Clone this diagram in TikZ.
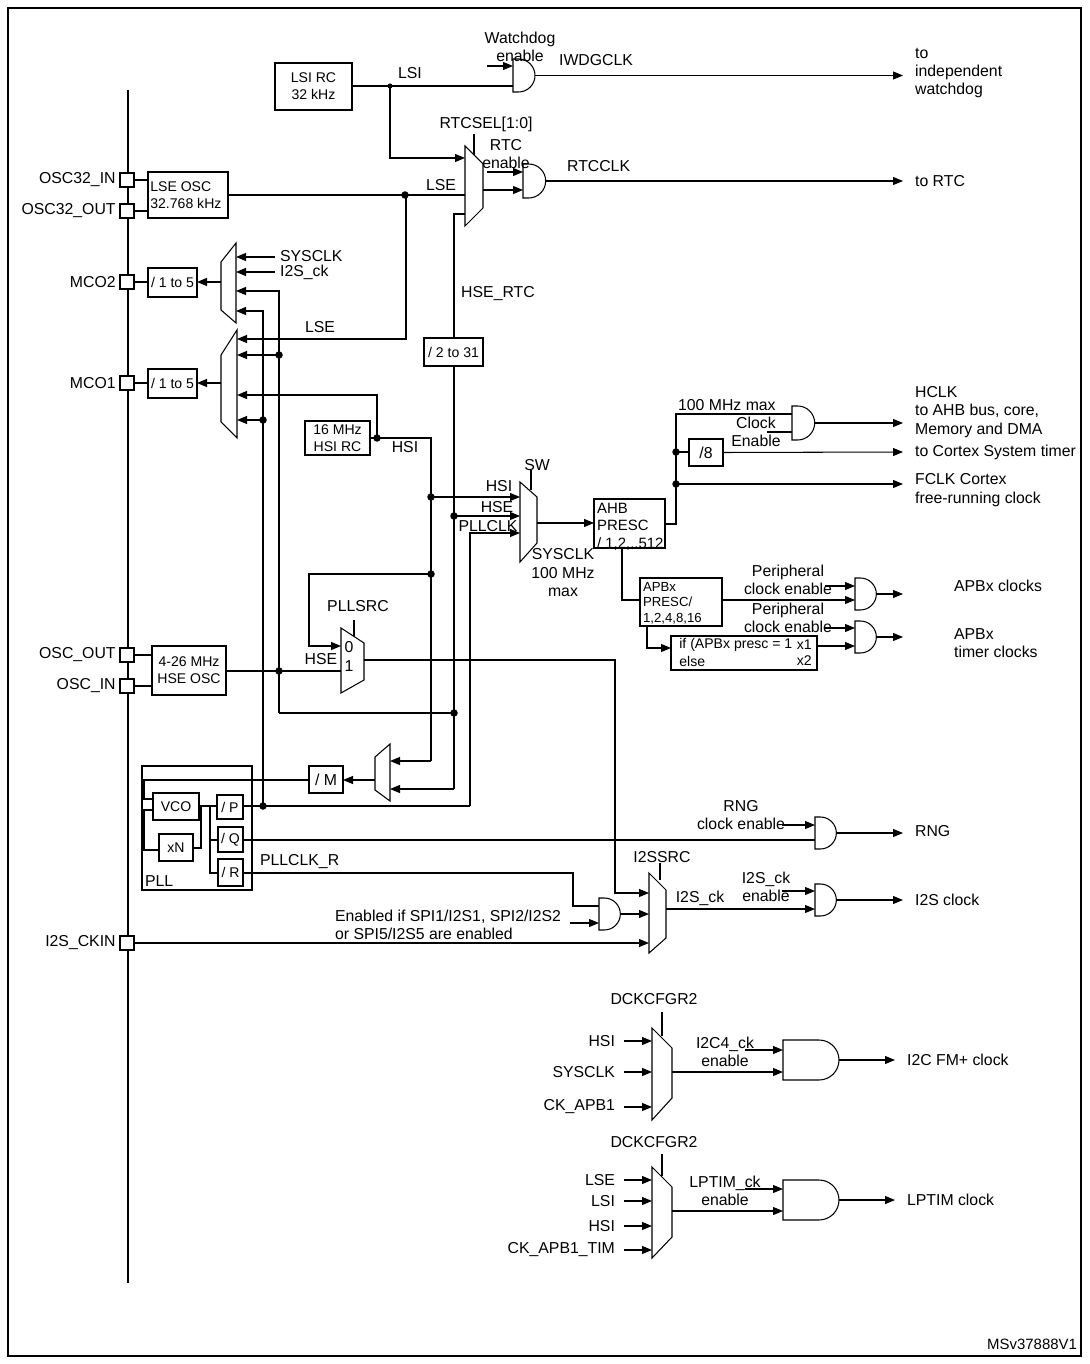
\documentclass[tikz,border=0pt]{standalone}
\usepackage{fontspec}
\setmainfont{Liberation Sans}
\usetikzlibrary{arrows.meta,positioning}

\tikzset{
  wire/.style={line width=0.6pt},
  arr/.style={wire,-{Triangle[length=0.2cm,width=0.16cm]}},
  boxtxt/.style={inner sep=0pt,font=\fontsize{8}{9.5}\selectfont,align=center},
  pin/.style={draw,fill=white,line width=0.6pt,minimum size=0.28cm,inner sep=0pt},
  lbl/.style={font=\fontsize{9}{10.5}\selectfont,inner sep=1pt},
  dot/.style={circle,fill,inner sep=0pt,minimum size=0.15cm},
}
% block: name, x1, y1, x2, y2, text
\newcommand\blk[6]{\draw[wire] (#2,#3) rectangle (#4,#5);
  \node[boxtxt] (#1) at ({(#2+#4)/2},{(#3+#5)/2}) {#6};}
% and gate: name of output, x, ytop, height
\newcommand\andg[4]{\draw[wire] (#2,#3) -- ++(#4/6,0) arc[start angle=-90,end angle=90,radius=#4/2] -- (#2,#3+#4) -- cycle;
  \coordinate (#1) at ({#2+2*#4/3},{#3+#4/2});}
% big and gate for the lower outputs
\newcommand\bigand[4]{\draw[wire] (#2,#3) -- ++(36,0) arc[start angle=-90,end angle=90,radius=#4/2] -- (#2,#3+#4) -- cycle;
  \coordinate (#1) at ({#2+36+#4/2},{#3+#4/2});}

\begin{document}
\begin{tikzpicture}[x=0.02cm,y=-0.02cm]
\useasboundingbox (0,0) rectangle (1089,1364);
\draw[wire] (8,8) rectangle (1081,1356);

% bus and pins
\draw[wire] (128,90) -- (128,1283);
\node[pin] (p32in) at (127,180) {};
\node[pin] (p32out) at (127,211) {};
\node[pin] (pmco2) at (127,282) {};
\node[pin] (pmco1) at (127,383) {};
\node[pin] (poscout) at (127,655) {};
\node[pin] (poscin) at (127,686) {};
\node[pin] (pi2s) at (127,943) {};
\node[lbl,left=1pt of p32in] {OSC32\_IN};
\node[lbl,left=1pt of p32out] {OSC32\_OUT};
\node[lbl,left=1pt of pmco2] {MCO2};
\node[lbl,left=1pt of pmco1] {MCO1};
\node[lbl,left=1pt of poscout] {OSC\_OUT};
\node[lbl,left=1pt of poscin] {OSC\_IN};
\node[lbl,left=1pt of pi2s] {I2S\_CKIN};

% oscillators
\blk{lsirc}{275}{63}{352}{110}{LSI RC\\32 kHz}
\draw[wire] (148,172) rectangle (228,218);
\node[boxtxt,align=left,anchor=west] (lseosc) at (150,195) {LSE OSC\\32.768 kHz};
\blk{hsirc}{305}{421}{370}{455}{16 MHz\\HSI RC}
\blk{hseosc}{152}{646}{226}{695}{4-26 MHz\\HSE OSC}
\draw[wire] (p32in.east) -- (148,180) (p32out.east) -- (148,211);
\draw[wire] (poscout.east) -- (152,655) (poscin.east) -- (152,686);

% LSI, watchdog
\draw[wire] (352,86) -- (513,86);
\node[dot,minimum size=0.1cm] at (390,86) {};
\node[lbl] at (410,73) {LSI};
\draw[arr] (487,66) -- (513,66);
\node[lbl,align=center] at (520,47) {Watchdog\\enable\hspace{1em}};
\andg{iwdg}{513}{59}{33}
\node[lbl,anchor=west] at (557,60) {IWDGCLK};
\draw[arr] (iwdg) -- (903,75.5);
\node[lbl,align=left,anchor=west] at (913,73) {to\\independent\\watchdog};

% RTC
\draw[arr] (390,86) -- (390,158) -- (465,158);
\draw[wire] (465,146) -- (483,164) -- (483,208) -- (465,226) -- cycle;
\draw[wire] (474,134) -- (474,155);
\node[lbl] at (486,124) {RTCSEL[1:0]};
\draw[wire] (228,195) -- (465,195);
\node[dot] at (405,195) {};
\node[lbl] at (441,185) {LSE};
\draw[arr] (483,190) -- (523,190);
\draw[arr] (487,172) -- (523,172);
\node[lbl,align=center] at (506,154) {RTC\\enable};
\andg{rtc}{523}{164}{34}
\node[lbl,anchor=west] at (565,166) {RTCCLK};
\draw[arr] (rtc) -- (903,181);
\node[lbl,anchor=west] at (913,181) {to RTC};

% HSE_RTC
\draw[wire] (465,214) -- (454,214) -- (454,789);
\node[lbl] at (498,294) {HSE\_RTC};
\draw[wire,fill=white] (424,338) rectangle (483,366);
\node[boxtxt] (div31) at (453.5,352) {/ 2 to 31};

% MCO2
\draw[wire] (221,262) -- (236,243) -- (236,323) -- (221,310) -- cycle;
\draw[arr] (221,282) -- (197,282);
\blk{mcotwo}{148}{268}{197}{297}{/ 1 to 5}
\draw[wire] (pmco2.east) -- (148,282);
\draw[arr] (275,257) -- (236,257);
\draw[arr] (275,272) -- (236,272);
\node[lbl,anchor=west] at (278,256) {SYSCLK};
\node[lbl,anchor=west] at (278,272) {I2S\_ck};
\draw[arr] (279,713) -- (279,291) -- (236,291);
\draw[arr] (263,806) -- (263,311) -- (236,311);

% MCO1
\draw[wire] (221,355) -- (237,330) -- (237,438) -- (221,422) -- cycle;
\draw[arr] (221,383) -- (197,383);
\blk{mcoone}{148}{369}{197}{398}{/ 1 to 5}
\draw[wire] (pmco1.east) -- (148,383);
\draw[arr] (406,195) -- (406,339) -- (237,339);
\node[lbl] at (320,327) {LSE};
\draw[arr] (279,355) -- (237,355);
\node[dot] at (279,355) {};
\draw[arr] (377,438) -- (377,395) -- (237,395);
\draw[arr] (263,420) -- (237,420);
\node[dot] at (263,420) {};

% HSI
\draw[wire] (370,438) -- (431,438) -- (431,761);
\node[dot] at (377,438) {};
\node[lbl] at (405,447) {HSI};

% SW mux
\draw[wire] (520,482) -- (537,497) -- (537,543) -- (520,562) -- cycle;
\draw[wire] (531,470) -- (531,490);
\node[lbl] at (537,465) {SW};
\draw[arr] (431,497) -- (520,497);
\node[dot] at (431,497) {};
\node[lbl] at (499,486) {HSI};
\draw[arr] (454,516) -- (520,516);
\node[dot] at (454,516) {};
\node[lbl] at (497,507) {HSE};
\draw[arr] (470,806) -- (470,533) -- (520,533);
\node[lbl] at (488,526) {PLLCLK};
\node[lbl,align=center] at (563,573) {SYSCLK\\100 MHz\\max};

% AHB
\draw[arr] (537,523) -- (594,523);
\draw[wire] (594,499) rectangle (665,548);
\node[lbl,align=left,anchor=north west,font=\fontsize{8.5}{10}\selectfont] (ahb) at (595,501) {AHB\\PRESC\\/ 1,2,..512};
\draw[wire] (665,524) -- (676,524) -- (676,414) -- (792,414);
\node[lbl,anchor=west] at (676,405) {100 MHz max};
\draw[wire] (767,432) -- (792,432);
\node[lbl,align=center] at (756,432) {Clock\\Enable};
\andg{hclk}{792}{406}{34}
\draw[arr] (hclk) -- (903,423);
\draw[wire] (676,452) -- (689,452);
\node[dot] at (676,452) {};
\blk{div8}{689}{439}{723}{466}{\fontsize{9}{11}\selectfont /8}
\draw[arr] (div8.center -| 723,0) -- (903,452);
\draw[arr] (676,484) -- (903,484);
\node[dot] at (676,484) {};
\node[lbl,align=left,anchor=west] at (913,412) {HCLK\\to AHB bus, core,\\Memory and DMA};
\node[lbl,anchor=west] at (913,452) {to Cortex  System timer};
\node[lbl,align=left,anchor=west] at (913,490) {FCLK Cortex\\free-running clock};

% APBx
\draw[wire] (622,548) -- (622,600) -- (640,600);
\draw[wire] (640,578) rectangle (722,626);
\node[lbl,align=left,anchor=north west,font=\fontsize{7.5}{9}\selectfont] (apb) at (641,580) {APBx\\PRESC/\\1,2,4,8,16};
\draw[arr] (722,600) -- (855,600);
\draw[arr] (825,586) -- (855,586);
\node[lbl,align=center] at (788,580) {Peripheral\\clock enable};
\andg{apbout}{855}{578}{32}
\draw[arr] (apbout) -- (903,594);
\node[lbl,anchor=west] at (952,586) {APBx clocks};
\draw[arr] (647,626) -- (647,648) -- (671,648);
\draw[wire] (671,636) rectangle (817,670);
\node[boxtxt,anchor=west] at (679,645) {if (APBx presc = 1};
\node[boxtxt,anchor=west] at (679,661) {else};
\node[boxtxt,anchor=east] at (812,645) {x1};
\node[boxtxt,anchor=east] at (812,661) {x2};
\draw[arr] (817,646) -- (855,646);
\draw[arr] (825,628) -- (855,628);
\node[lbl,align=center] at (788,618) {Peripheral\\clock enable};
\andg{timout}{855}{621}{32}
\draw[arr] (timout) -- (903,637);
\node[lbl,align=left,anchor=west] at (952,643) {APBx\\timer clocks};

% PLL source
\draw[arr] (431,574) -- (309,574) -- (309,646) -- (341,646);
\node[dot] at (431,574) {};
\draw[wire] (341,628) -- (364,643) -- (364,680) -- (341,693) -- cycle;
\draw[wire] (354,620) -- (354,636);
\node[lbl] at (358,606) {PLLSRC};
\node[lbl] at (349,647) {0};
\node[lbl] at (349,666) {1};
\draw[wire] (226,671) -- (341,671);
\node[dot] at (279,671) {};
\node[lbl] at (321,659) {HSE};
\draw[wire] (279,713) -- (454,713);
\node[dot] at (454,713) {};
\draw[wire] (375,757) -- (390,744) -- (390,801) -- (375,790) -- cycle;
\draw[arr] (431,761) -- (390,761);
\draw[arr] (454,789) -- (390,789);
\draw[arr] (375,780) -- (343,780);
\blk{divm}{309}{766}{343}{793}{\fontsize{9}{11}\selectfont / M}

% PLL
\draw[wire] (142,766) rectangle (252,890);
\node[lbl,anchor=south west] at (143,889) {PLL};
\blk{vco}{153}{793}{199}{820}{VCO}
\blk{xn}{159}{834}{193}{861}{xN}
\blk{divp}{217}{795}{243}{819}{/ P}
\blk{divq}{218}{827}{243}{852}{/ Q}
\blk{divr}{218}{859}{243}{886}{/ R}
\draw[wire] (309,780) -- (144,780) -- (144,799) -- (153,799);
\draw[wire] (153,810) -- (144,810) -- (144,850) -- (159,850);
\draw[wire] (193,848) -- (201,848) -- (201,806);
\draw[wire] (199,806) -- (217,806);
\draw[wire] (210,806) -- (210,873) -- (218,873) (210,840) -- (218,840);
\draw[wire] (243,806) -- (470,806);
\node[dot] at (263,806) {};

% RNG
\draw[wire] (243,840) -- (815,840);
\draw[arr] (782,825) -- (815,825);
\node[lbl,align=center] at (741,815) {RNG\\clock enable};
\andg{rng}{815}{817}{32}
\draw[arr] (rng) -- (903,833);
\node[lbl,anchor=west] at (913,831) {RNG};

% I2S
\node[lbl,anchor=west] at (258,862) {PLLCLK\_R};
\draw[wire] (243,873) -- (573,873) -- (573,906) -- (599,906);
\draw[arr] (570,923) -- (599,923);
\node[lbl,align=left,anchor=west] at (333,925) {Enabled if SPI1/I2S1, SPI2/I2S2\\or SPI5/I2S5 are enabled};
\andg{i2sen}{599}{898}{32}
\draw[arr] (i2sen) -- (649,914);
\draw[arr] (364,660) -- (615,660) -- (615,893) -- (649,893);
\draw[arr] (pi2s.east) -- (649,943);
\draw[wire] (649,873) -- (666,890) -- (666,938) -- (649,953) -- cycle;
\draw[wire] (660,863) -- (660,880);
\node[lbl] at (662,857) {I2SSRC};
\draw[arr] (666,909) -- (815,909);
\node[lbl] at (700,898) {I2S\_ck};
\draw[arr] (782,891) -- (815,891);
\node[lbl,align=center] at (766,887) {I2S\_ck\\enable};
\andg{i2sout}{815}{884}{32}
\draw[arr] (i2sout) -- (903,900);
\node[lbl,anchor=west] at (913,900) {I2S clock};

% I2C FM+
\node[lbl] at (654,999) {DCKCFGR2};
\draw[wire] (652,1028) -- (672,1048) -- (672,1098) -- (652,1120) -- cycle;
\draw[wire] (662,1012) -- (662,1036);
\draw[arr] (624,1041) -- (652,1041);
\draw[arr] (624,1072) -- (652,1072);
\draw[arr] (624,1107) -- (652,1107);
\node[lbl,anchor=east] at (617,1041) {HSI};
\node[lbl,anchor=east] at (617,1072) {SYSCLK};
\node[lbl,anchor=east] at (617,1107) {CK\_APB1};
\draw[arr] (672,1072) -- (783,1072);
\draw[arr] (745,1050) -- (783,1050);
\node[lbl,align=center] at (725,1052) {I2C4\_ck\\enable};
\bigand{i2c}{783}{1040}{40}
\draw[arr] (i2c) -- (895,1060);
\node[lbl,anchor=west] at (905,1060) {I2C FM+ clock};

% LPTIM
\node[lbl] at (654,1142) {DCKCFGR2};
\draw[wire] (652,1167) -- (672,1187) -- (672,1237) -- (652,1258) -- cycle;
\draw[wire] (662,1154) -- (662,1176);
\draw[arr] (624,1180) -- (652,1180);
\draw[arr] (624,1201) -- (652,1201);
\draw[arr] (624,1226) -- (652,1226);
\draw[arr] (624,1250) -- (652,1250);
\node[lbl,anchor=east] at (617,1180) {LSE};
\node[lbl,anchor=east] at (617,1201) {LSI};
\node[lbl,anchor=east] at (617,1226) {HSI};
\node[lbl,anchor=east] at (617,1250) {CK\_APB1\_TIM};
\draw[arr] (672,1211) -- (783,1211);
\draw[arr] (745,1189) -- (783,1189);
\node[lbl,align=center] at (725,1191) {LPTIM\_ck\\enable};
\bigand{lptim}{783}{1180}{40}
\draw[arr] (lptim) -- (895,1200);
\node[lbl,anchor=west] at (905,1200) {LPTIM clock};

\node[lbl,anchor=east,font=\fontsize{8.5}{10}\selectfont] at (1079,1344) {MSv37888V1};
\end{tikzpicture}
\end{document}
